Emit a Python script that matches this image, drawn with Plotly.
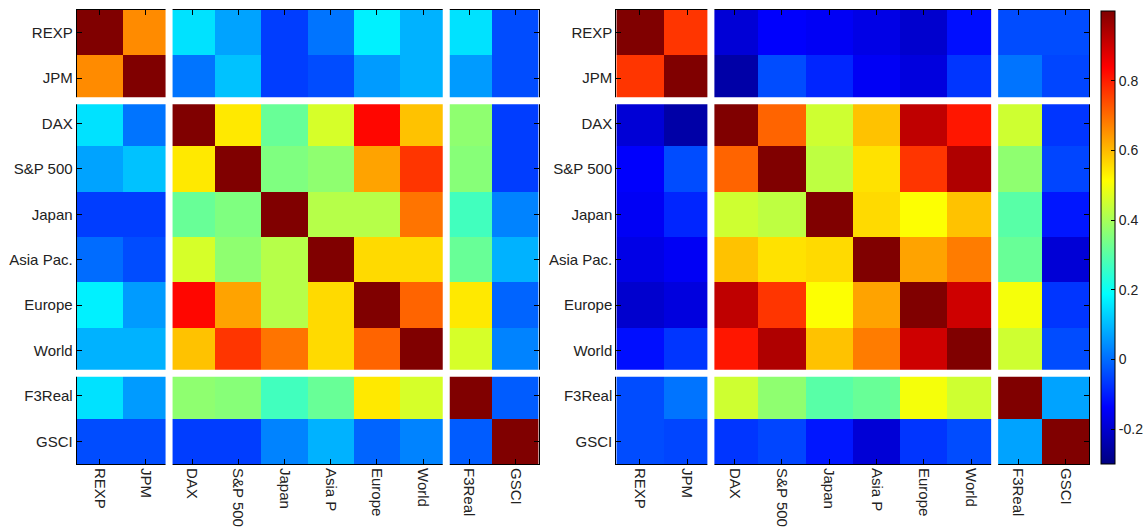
import plotly.graph_objects as go

# ---------------- data ----------------
x_labels = ["REXP", "JPM", "DAX", "S&P 500", "Japan", "Asia P", "Europe", "World", "F3Real", "GSCI"]
y_labels = ["REXP", "JPM", "DAX", "S&P 500", "Japan", "Asia Pac.", "Europe", "World", "F3Real", "GSCI"]
group_sizes = [2, 6, 2]

left_corr = [
    [1.00, 0.66, 0.15, 0.07, -0.06, 0.01, 0.17, 0.09, 0.15, -0.04],
    [0.66, 1.00, 0.01, 0.11, -0.06, -0.04, 0.06, 0.09, 0.06, -0.04],
    [0.15, 0.01, 1.00, 0.54, 0.32, 0.46, 0.83, 0.59, 0.37, -0.06],
    [0.07, 0.11, 0.54, 1.00, 0.35, 0.37, 0.63, 0.77, 0.36, -0.06],
    [-0.06, -0.06, 0.32, 0.35, 1.00, 0.42, 0.42, 0.69, 0.27, 0.03],
    [0.00, -0.04, 0.46, 0.37, 0.42, 1.00, 0.56, 0.56, 0.32, 0.09],
    [0.17, 0.06, 0.83, 0.63, 0.42, 0.56, 1.00, 0.71, 0.54, -0.01],
    [0.09, 0.09, 0.59, 0.77, 0.69, 0.56, 0.71, 1.00, 0.46, 0.03],
    [0.15, 0.06, 0.37, 0.36, 0.27, 0.32, 0.54, 0.46, 1.00, -0.02],
    [-0.04, -0.04, -0.06, -0.06, 0.03, 0.09, -0.01, 0.03, -0.02, 1.00],
]

right_corr = [
    [1.00, 0.77, -0.19, -0.14, -0.15, -0.17, -0.20, -0.12, -0.04, -0.04],
    [0.77, 1.00, -0.25, -0.04, -0.09, -0.15, -0.18, -0.07, 0.01, -0.05],
    [-0.19, -0.25, 1.00, 0.71, 0.45, 0.59, 0.92, 0.81, 0.45, -0.07],
    [-0.14, -0.04, 0.71, 1.00, 0.43, 0.55, 0.77, 0.94, 0.37, -0.05],
    [-0.15, -0.09, 0.45, 0.43, 1.00, 0.56, 0.51, 0.59, 0.30, -0.11],
    [-0.17, -0.15, 0.59, 0.55, 0.56, 1.00, 0.63, 0.68, 0.32, -0.19],
    [-0.20, -0.18, 0.92, 0.77, 0.51, 0.63, 1.00, 0.90, 0.50, -0.07],
    [-0.12, -0.07, 0.81, 0.94, 0.59, 0.68, 0.90, 1.00, 0.45, -0.04],
    [-0.04, 0.01, 0.45, 0.37, 0.30, 0.32, 0.50, 0.45, 1.00, 0.07],
    [-0.04, -0.05, -0.07, -0.05, -0.11, -0.19, -0.07, -0.04, 0.07, 1.00],
]

cbar_ticks = [-0.2, 0, 0.2, 0.4, 0.6, 0.8]
cbar_text = ["-0.2", "0", "0.2", "0.4", "0.6", "0.8"]

# MATLAB-style jet
jet = [
    [0.0, "rgb(0,0,128)"],
    [0.125, "rgb(0,0,255)"],
    [0.375, "rgb(0,255,255)"],
    [0.625, "rgb(255,255,0)"],
    [0.875, "rgb(255,0,0)"],
    [1.0, "rgb(128,0,0)"],
]

W, H = 1148, 530
FONT = "Liberation Sans, Arial, sans-serif"
idx = list(range(len(x_labels)))

fig = go.Figure()
fig.add_trace(go.Heatmap(z=left_corr, x=idx, y=idx, coloraxis="coloraxis",
                         xaxis="x", yaxis="y", hoverinfo="skip"))
fig.add_trace(go.Heatmap(z=right_corr, x=idx, y=idx, coloraxis="coloraxis",
                         xaxis="x2", yaxis="y2", hoverinfo="skip"))

ydom = [1 - 464 / H, 1 - 10 / H]
axis_common = dict(
    showline=True, linecolor="black", linewidth=1, mirror="ticks",
    ticks="inside", ticklen=5, tickcolor="black", tickwidth=1,
    showgrid=False, zeroline=False,
    tickfont=dict(family=FONT, size=15, color="#222"),
    automargin=False,
)

fig.update_layout(
    width=W, height=H,
    margin=dict(l=0, r=0, t=0, b=0),
    paper_bgcolor="white", plot_bgcolor="white",
    font=dict(family=FONT, size=15, color="#222"),
    showlegend=False,
    xaxis=dict(domain=[77 / W, 541 / W], range=[-0.5, 9.5], tickvals=idx,
               ticktext=x_labels, tickangle=90, anchor="y", **axis_common),
    yaxis=dict(domain=ydom, range=[9.5, -0.5], tickvals=idx,
               ticktext=y_labels, anchor="x", **axis_common),
    xaxis2=dict(domain=[619 / W, 1094 / W], range=[-0.5, 9.5], tickvals=idx,
                ticktext=x_labels, tickangle=90, anchor="y2", **axis_common),
    yaxis2=dict(domain=ydom, range=[9.5, -0.5], tickvals=idx,
                ticktext=y_labels, anchor="x2", **axis_common),
    coloraxis=dict(
        colorscale=jet, cmin=-0.3, cmax=1.0,
        colorbar=dict(
            x=1106 / W, xanchor="left", xpad=0,
            y=1 - 237.5 / H, yanchor="middle", ypad=0,
            len=453 / H, lenmode="fraction",
            thickness=14, outlinecolor="black", outlinewidth=1,
            ticks="inside", ticklen=4, tickcolor="black",
            tickvals=cbar_ticks, ticktext=cbar_text,
            tickfont=dict(family=FONT, size=14, color="#222"),
        ),
    ),
)

# white separators between groups
bounds = []
acc = 0
for g in group_sizes[:-1]:
    acc += g
    bounds.append(acc - 0.5)

for xr, yr in (("x", "y"), ("x2", "y2")):
    for b in bounds:
        fig.add_shape(type="line", xref=xr, yref=yr + " domain", x0=b, x1=b,
                      y0=-0.01, y1=1.01, line=dict(color="white", width=7), layer="above")
        fig.add_shape(type="line", xref=xr + " domain", yref=yr, x0=-0.01, x1=1.01,
                      y0=b, y1=b, line=dict(color="white", width=7), layer="above")

fig.write_html(
    "out.html",
    config={"displayModeBar": False},
    post_script="document.body.style.margin='0';document.body.style.overflow='hidden';",
)
